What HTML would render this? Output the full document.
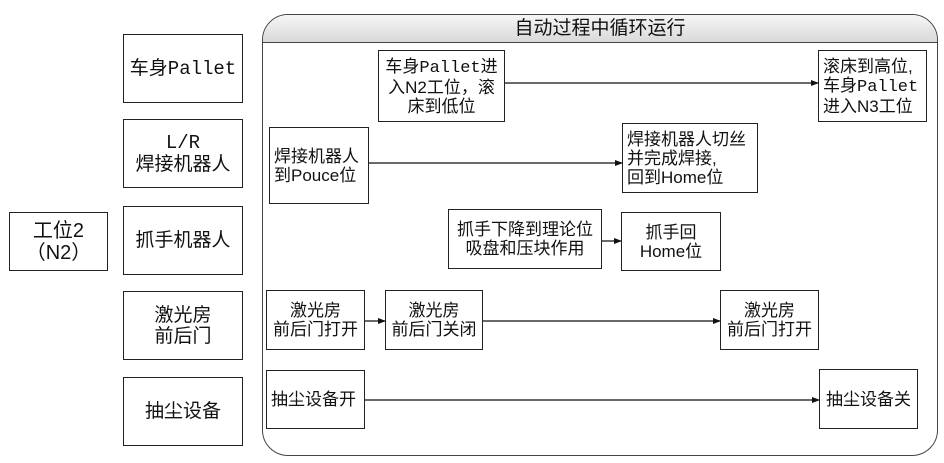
<!DOCTYPE html>
<html><head><meta charset="utf-8"><style>
body{margin:0;width:944px;height:463px;background:#fff;position:relative;overflow:hidden;font-family:"Liberation Sans","Noto Sans CJK SC",sans-serif;}
.b{position:absolute;box-sizing:border-box;border:1.5px solid #222;background:#fff;display:flex;align-items:center;justify-content:center;text-align:center;font-size:17px;line-height:19px;color:#111;}
.l{text-align:left;justify-content:flex-start;padding-left:4px;}
.big{font-size:19px;line-height:21px;}
.m{font-family:"Liberation Mono","Noto Sans CJK SC",monospace;}
svg{position:absolute;left:0;top:0;}
</style></head><body>
<div style="position:absolute;left:262px;top:14px;width:676px;height:442px;box-sizing:border-box;border:1.5px solid #444;border-radius:26px;overflow:hidden;">
<div style="height:27px;border-bottom:1.5px solid #444;background:linear-gradient(#f6f6f6,#d9d9d9);text-align:center;font-size:19px;line-height:27px;color:#111;">自动过程中循环运行</div>
</div>
<div class="b" style="left:9px;top:212px;width:99px;height:59px;font-size:20px;line-height:22px;"><span>工位2<br>（N2）</span></div>
<div class="b big" style="left:123px;top:34px;width:120px;height:69px;"><span>车身<span class="m">Pallet</span></span></div>
<div class="b big" style="left:123px;top:119px;width:120px;height:69px;"><span><span class="m">L/R</span><br>焊接机器人</span></div>
<div class="b big" style="left:123px;top:206px;width:120px;height:69px;">抓手机器人</div>
<div class="b big" style="left:123px;top:291px;width:120px;height:69px;">激光房<br>前后门</div>
<div class="b big" style="left:123px;top:377px;width:120px;height:69px;">抽尘设备</div>

<div class="b" style="left:378px;top:50px;width:127px;height:72px;"><span>车身<span class="m">Pallet</span>进<br>入N2工位，滚<br>床到低位</span></div>
<div class="b l" style="left:818px;top:50px;width:109px;height:72px;"><span>滚床到高位,<br>车身<span class="m">Pallet</span><br>进入N3工位</span></div>
<div class="b l" style="left:269px;top:127px;width:100px;height:77px;"><span>焊接机器人<br>到Pouce位</span></div>
<div class="b l" style="left:622px;top:123px;width:136px;height:70px;"><span>焊接机器人切丝<br>并完成焊接,<br>回到Home位</span></div>
<div class="b" style="left:448px;top:209px;width:154px;height:60px;"><span>抓手下降到理论位<br>吸盘和压块作用</span></div>
<div class="b" style="left:621px;top:212px;width:100px;height:59px;"><span>抓手回<br>Home位</span></div>
<div class="b" style="left:266px;top:290px;width:99px;height:60px;"><span>激光房<br>前后门打开</span></div>
<div class="b" style="left:385px;top:290px;width:98px;height:60px;"><span>激光房<br>前后门关闭</span></div>
<div class="b" style="left:720px;top:290px;width:99px;height:60px;"><span>激光房<br>前后门打开</span></div>
<div class="b l" style="left:266px;top:370px;width:99px;height:59px;">抽尘设备开</div>
<div class="b" style="left:819px;top:369px;width:99px;height:60px;">抽尘设备关</div>

<svg width="944" height="463">
<defs><marker id="a" markerWidth="8" markerHeight="8" refX="7" refY="4" orient="auto" markerUnits="userSpaceOnUse"><path d="M0,1 L8,4 L0,7z" fill="#111"/></marker></defs>
<g stroke="#111" stroke-width="1.2" marker-end="url(#a)">
<line x1="505" y1="83" x2="818" y2="83"/>
<line x1="369" y1="163" x2="622" y2="163"/>
<line x1="602" y1="241" x2="621" y2="241"/>
<line x1="365" y1="321" x2="385" y2="321"/>
<line x1="483" y1="321" x2="720" y2="321"/>
<line x1="365" y1="400" x2="819" y2="400"/>
</g></svg>
</body></html>
